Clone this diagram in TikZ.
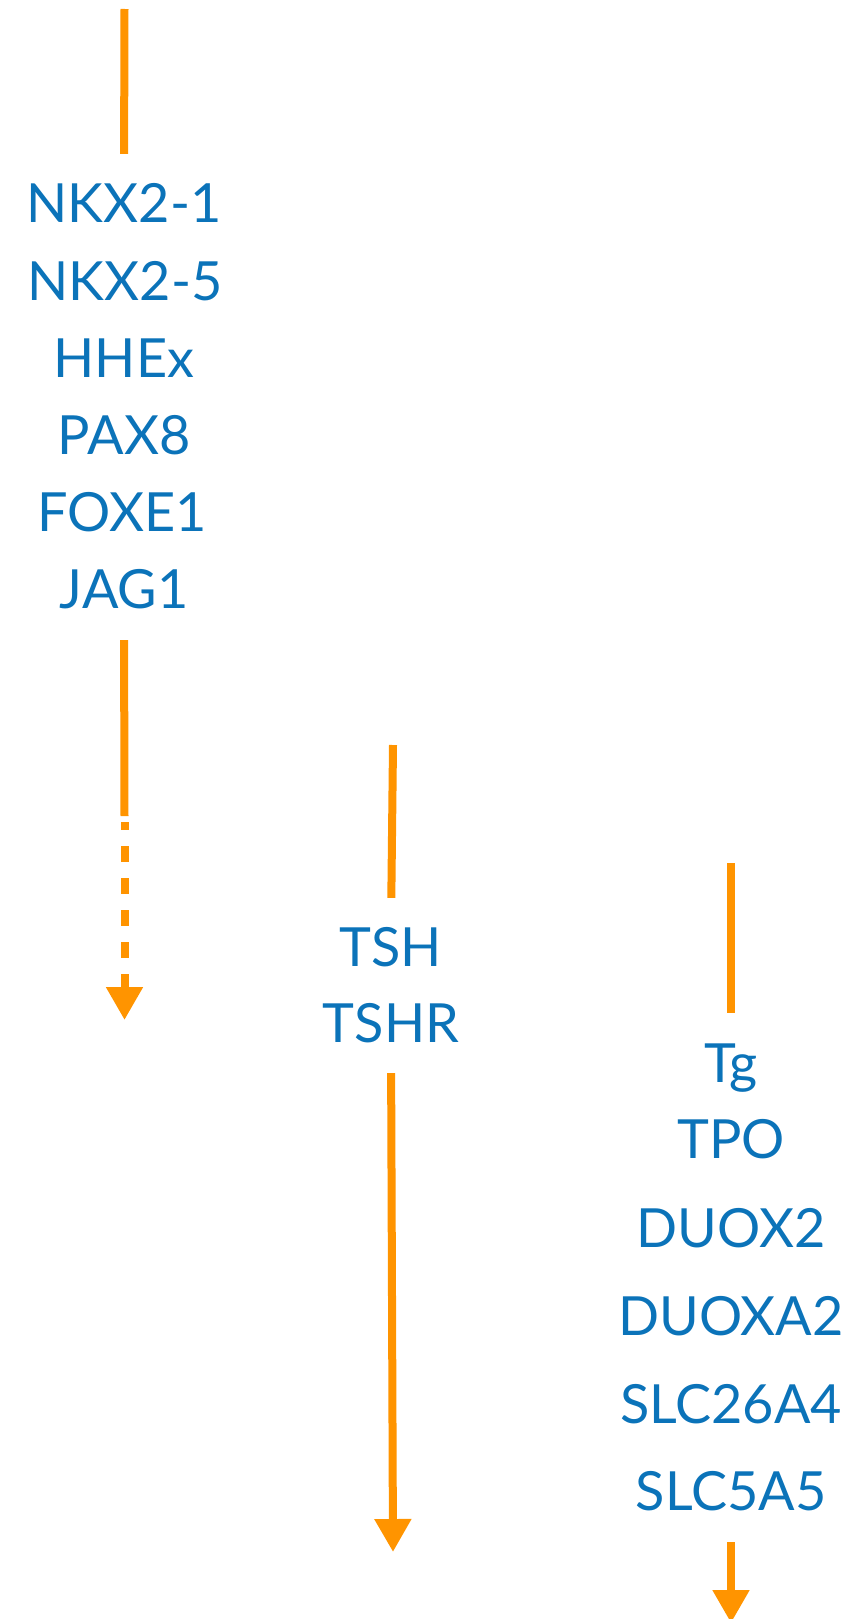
\documentclass[tikz,border=0pt]{standalone}
\usepackage{fontspec}
\setmainfont{Lato}
\usetikzlibrary{arrows.meta}
\definecolor{genblue}{HTML}{0B73B9}
\definecolor{arrorange}{HTML}{FF9400}
\tikzset{
  gene/.style={text=genblue, inner sep=0pt, anchor=base, text height=39pt, text depth=0pt, font=\fontsize{54}{60}\selectfont},
  bar/.style={draw=arrorange, line width=8pt},
  flow/.style={draw=arrorange, line width=8pt, -{Triangle[width=35pt,length=33pt]}},
}
\begin{document}
\begin{tikzpicture}[x=1pt,y=-1pt]
\useasboundingbox (0,0) rectangle (864,1619);
% column 1
\node[gene] (nkxa) at (124,222) {NKX2-1};
\node[gene] (nkxb) at (125,300) {NKX2-5};
\node[gene] (hhex) at (124,377) {HHEx};
\node[gene] (pax8) at (124,454) {PAX8};
\node[gene] (foxe) at (122,531) {FOXE1};
\node[gene] (jag1) at (124,608) {JAG1};
\coordinate (t1) at (124.5,9);
\coordinate (m1) at (124.5,816);
\coordinate (d1) at (124.5,822);
\coordinate (e1) at (124.5,1020);
\draw[bar] (t1) -- (nkxa.north) [shorten >=29pt];
\draw[bar, shorten <=32pt] (jag1.south) -- (m1);
\draw[flow, dash pattern=on 8pt off 16pt on 16pt off 16pt on 16pt off 16pt on 16pt off 16pt on 16pt off 16pt on 60pt] (d1) -- (e1);
% column 2
\node[gene] (tsh) at (391,966) {TSH};
\node[gene] (tshr) at (391,1042) {TSHR};
\coordinate (t2) at (393,745);
\coordinate (e2) at (393,1552);
\draw[bar, shorten >=29pt] (t2) -- (tsh.north);
\draw[flow, shorten <=31pt] (tshr.south) -- (e2);
% column 3
\node[gene] (tg) at (731,1082) {Tg};
\node[gene] (tpo) at (731,1158) {TPO};
\node[gene] (duox) at (731,1247) {DUOX2};
\node[gene] (duoxa) at (731,1335) {DUOXA2};
\node[gene] (slca) at (731,1423) {SLC26A4};
\node[gene] (slcb) at (731,1510) {SLC5A5};
\coordinate (t3) at (731,863);
\coordinate (e3) at (731,1623);
\draw[bar, shorten >=30pt] (t3) -- (tg.north);
\draw[flow, shorten <=32pt] (slcb.south) -- (e3);
\end{tikzpicture}
\end{document}
